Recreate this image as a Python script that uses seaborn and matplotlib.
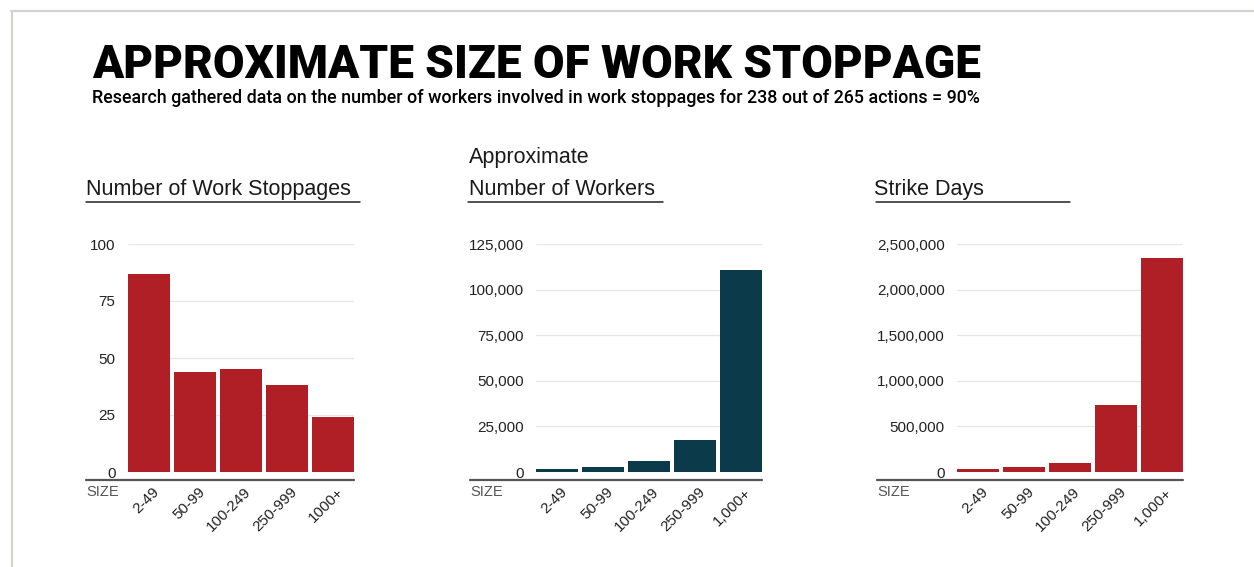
import matplotlib
matplotlib.use("Agg")
import matplotlib.pyplot as plt
import matplotlib.transforms as mtransforms
from matplotlib.lines import Line2D
from matplotlib.ticker import FuncFormatter
import pandas as pd
import seaborn as sns

# data
sizes_a = ["2-49", "50-99", "100-249", "250-999", "1000+"]
sizes_b = ["2-49", "50-99", "100-249", "250-999", "1,000+"]
stoppages = [87, 44, 45, 38, 24]
workers = [1800, 2900, 6200, 17800, 110700]
strike_days = [29000, 51000, 95000, 738000, 2342000]

titles = [["Number of Work Stoppages"], ["Approximate", "Number of Workers"], ["Strike Days"]]
yticks = [[0, 25, 50, 75, 100],
          [0, 25000, 50000, 75000, 100000, 125000],
          [0, 500000, 1000000, 1500000, 2000000, 2500000]]

RED = "#b01f25"
TEAL = "#0b3a4a"

sns.set_theme(style="white")
plt.rcParams["font.family"] = ["Liberation Sans", "DejaVu Sans"]

W, H = 1254, 567
fig = plt.figure(figsize=(W / 100, H / 100), dpi=100)
fig.patch.set_facecolor("white")


def fx(px):
    return px / W


def fy(py):
    return 1 - py / H


# frame lines at top and left
fig.add_artist(Line2D([fx(11), 1], [fy(11), fy(11)], color="#d6d3ce", lw=1.6))
fig.add_artist(Line2D([fx(12), fx(12)], [fy(11), 0], color="#d6d3ce", lw=1.6))

# headline + subtitle
fig.text(fx(92), fy(78), "APPROXIMATE SIZE OF WORK STOPPAGE", fontsize=33,
         fontweight="black", family=["Roboto", "DejaVu Sans"], color="black",
         ha="left", va="baseline")
fig.text(fx(92), fy(103), "Research gathered data on the number of workers involved in work "
         "stoppages for 238 out of 265 actions = 90%", fontsize=12.9,
         fontweight="medium", family=["Roboto", "DejaVu Sans"], color="black",
         ha="left", va="baseline")

panels = [
    dict(cats=sizes_a, vals=stoppages, color=RED, left=128, line_x0=86, title_x=86, ul=(86, 360)),
    dict(cats=sizes_b, vals=workers, color=TEAL, left=536, line_x0=470, title_x=469, ul=(468, 663)),
    dict(cats=sizes_b, vals=strike_days, color=RED, left=957, line_x0=877, title_x=874, ul=(876, 1070)),
]

for i, p in enumerate(panels):
    ax = fig.add_axes([fx(p["left"]), fy(472), fx(226), fy(244) - fy(472)])
    df = pd.DataFrame({"size": p["cats"], "value": p["vals"]})
    sns.barplot(data=df, x="size", y="value", color=p["color"], width=0.9,
                saturation=1, ax=ax)
    for patch in ax.patches:
        patch.set_edgecolor("none")

    ax.set_xlim(-0.45, 4.45)
    ax.set_ylim(0, yticks[i][-1])
    ax.set_yticks(yticks[i])
    ax.yaxis.set_major_formatter(FuncFormatter(lambda v, _: f"{v:,.0f}"))
    ax.grid(axis="y", color="#e6e6e6", lw=0.9)
    ax.set_axisbelow(True)
    for s in ax.spines.values():
        s.set_visible(False)
    ax.set_xlabel("")
    ax.set_ylabel("")
    ax.tick_params(axis="both", length=0, labelsize=11, colors="#222222")
    ax.tick_params(axis="y", pad=9)
    ax.tick_params(axis="x", pad=13)

    offset = mtransforms.ScaledTranslation(8 / 100, 0, fig.dpi_scale_trans)
    for lab in ax.get_xticklabels():
        lab.set_rotation(45)
        lab.set_ha("right")
        lab.set_va("center")
        lab.set_rotation_mode("anchor")
        lab.set_transform(lab.get_transform() + offset)

    # dark baseline under the plot and SIZE label
    fig.add_artist(Line2D([fx(p["line_x0"]), fx(p["left"] + 226)], [fy(480), fy(480)],
                          color="#555555", lw=1.6))
    fig.text(fx(p["line_x0"]), fy(492), "SIZE", fontsize=10.5, color="#555555",
             ha="left", va="center")

    # panel titles with underline
    lines = titles[i]
    for j, t in enumerate(reversed(lines)):
        fig.text(fx(p["title_x"]), fy(195 - 32 * j), t, fontsize=15.5, color="#1a1a1a",
                 ha="left", va="baseline")
    fig.add_artist(Line2D([fx(p["ul"][0]), fx(p["ul"][1])], [fy(202), fy(202)],
                          color="#222222", lw=1.1))

fig.savefig("out.png", dpi=100, facecolor="white")
